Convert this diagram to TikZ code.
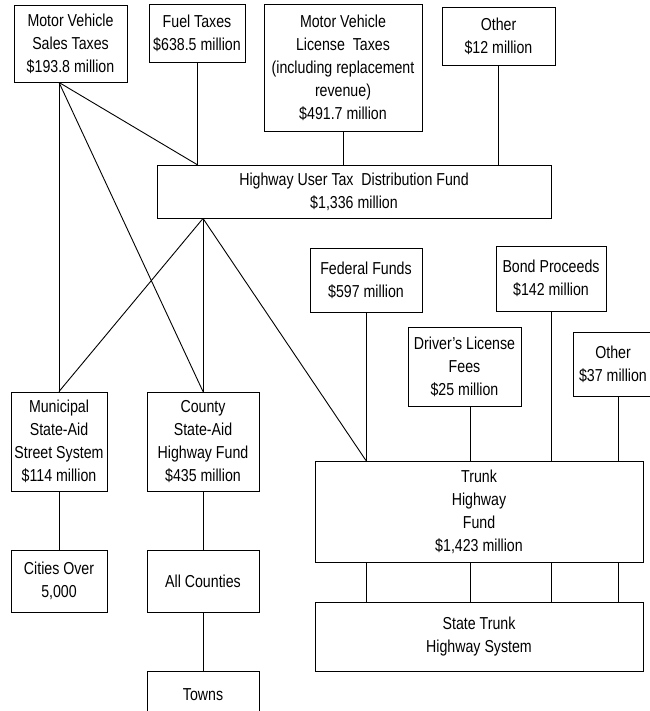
\documentclass[tikz,border=0pt]{standalone}
\usepackage{fontspec}
\setmainfont{Liberation Sans}[FakeStretch=0.82]
\tikzset{
  box/.style={
    rectangle,
    draw=black,
    fill=white,
    align=center,
    inner xsep=2pt,
    inner ysep=0pt,
    line width=0.9pt,
    font=\fontsize{17.3}{23}\selectfont
  },
  link/.style={draw=black, line width=0.9pt}
}

\begin{document}
\begin{tikzpicture}[x=1pt, y=-1pt]
    \useasboundingbox (0,0) rectangle (649,711);

    % revenue sources
    \node[box, minimum width=113pt, minimum height=77pt] (mvst) at (70.5,43.5) {Motor Vehicle\\Sales Taxes\\\$193.8 million};
    \node[box, minimum width=96pt, minimum height=58pt] (fuel) at (197,33) {Fuel Taxes\\\$638.5 million};
    \node[box, minimum width=158pt, minimum height=127pt] (mvlt) at (343,67.5) {Motor Vehicle\\License\ \ Taxes\\(including replacement\\revenue)\\\$491.7 million};
    \node[box, minimum width=113pt, minimum height=58pt] (othA) at (498.5,36) {Other\\\$12 million};

    \node[box, minimum width=394pt, minimum height=53pt] (hutdf) at (354,191.5) {Highway User Tax\ \ Distribution Fund\\\$1,336 million};

    \node[box, minimum width=112pt, minimum height=64pt] (fed) at (366,280) {Federal Funds\\\$597 million};
    \node[box, minimum width=110pt, minimum height=65pt] (bond) at (551,278.5) {Bond Proceeds\\\$142 million};
    \node[box, minimum width=113pt, minimum height=79pt] (drv) at (464.5,366.5) {Driver's License\\Fees\\\$25 million};
    \node[box, minimum width=80pt, minimum height=64pt] (othB) at (613,364) {Other\\\$37 million};

    % funds
    \node[box, minimum width=96pt, minimum height=99pt] (mun) at (59,441.5) {Municipal\\State-Aid\\Street System\\\$114 million};
    \node[box, minimum width=112pt, minimum height=99pt] (cty) at (203,441.5) {County\\State-Aid\\Highway Fund\\\$435 million};
    \node[box, minimum width=328pt, minimum height=101pt] (trunk) at (479,511.5) {Trunk\\Highway\\Fund\\\$1,423 million};

    % recipients
    \node[box, minimum width=96pt, minimum height=62pt] (cities) at (59,581) {Cities Over\\5,000};
    \node[box, minimum width=112pt, minimum height=62pt] (allc) at (203,581) {All Counties};
    \node[box, minimum width=112pt, minimum height=48pt] (towns) at (203,695) {Towns};
    \node[box, minimum width=328pt, minimum height=69pt] (state) at (479,636.5) {State Trunk\\Highway System};

    % junction points
    \coordinate (mvsB) at (mun.north |- mvst.south);
    \coordinate (huB) at (cty.north |- hutdf.south);
    \coordinate (fuelJ) at (fuel.south |- hutdf.north);
    \coordinate (fedJ) at (fed.south |- trunk.north);
    \coordinate (drvS) at ([xshift=5.5pt]drv.south);
    \coordinate (othS) at ([xshift=5pt]othB.south);

    \draw[link] (fuel.south) -- (fuelJ);
    \draw[link] (mvlt.south) -- (mvlt.south |- hutdf.north);
    \draw[link] (othA.south) -- (othA.south |- hutdf.north);

    \draw[link] (mvsB) -- (fuelJ);
    \draw[link] (mvsB) -- (mun.north);
    \draw[link] (mvsB) -- (cty.north);

    \draw[link] (huB) -- (mun.north);
    \draw[link] (huB) -- (cty.north);
    \draw[link] (huB) -- (fedJ);

    \foreach \src in {fed.south, drvS, bond.south, othS} {
        \draw[link] (\src) -- (\src |- trunk.north);
        \draw[link] (\src |- trunk.south) -- (\src |- state.north);
    }

    \draw[link] (mun) -- (cities);
    \draw[link] (cty) -- (allc);
    \draw[link] (allc) -- (towns);
\end{tikzpicture}
\end{document}
